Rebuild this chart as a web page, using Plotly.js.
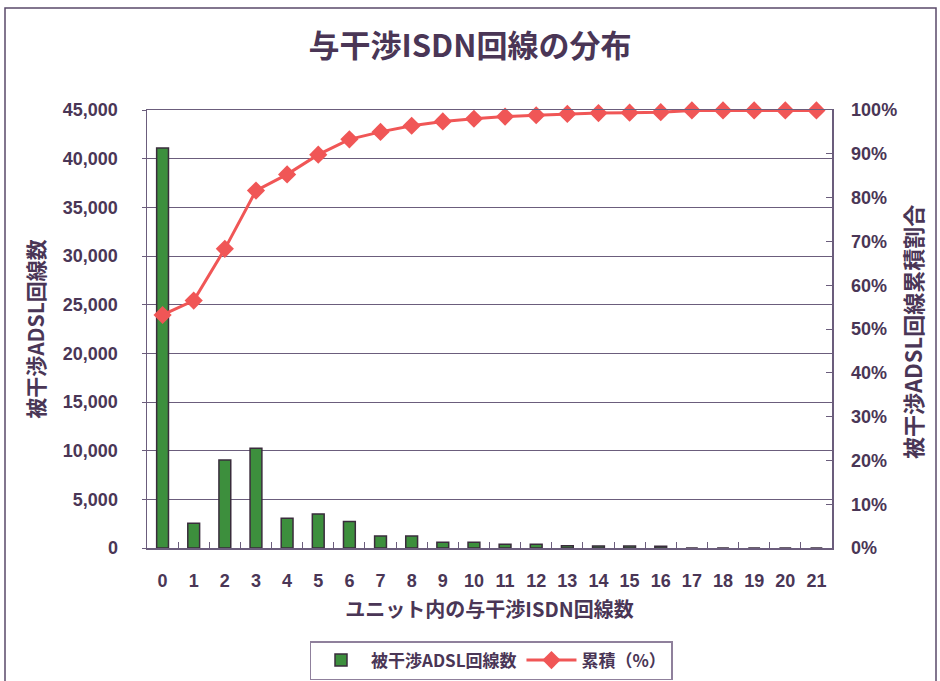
<!DOCTYPE html>
<html><head><meta charset="utf-8">
<script src="https://cdn.plot.ly/plotly-3.0.1.min.js"></script>
<style>html,body{margin:0;padding:0;background:#fff;}#chart{width:940px;height:681px;}</style>
</head><body><div id="chart"></div>
<script>
const categories = ['0','1','2','3','4','5','6','7','8','9','10','11','12','13','14','15','16','17','18','19','20','21'];
const adslCounts = [41100, 2550, 9050, 10250, 3050, 3500, 2720, 1230, 1230, 590, 580, 390, 380, 220, 210, 200, 190, 0, 0, 0, 0, 0];
const cumulativePct = [53.2, 56.5, 68.3, 81.6, 85.3, 89.8, 93.3, 95.0, 96.4, 97.4, 98.0, 98.5, 98.8, 99.1, 99.3, 99.4, 99.5, 99.9, 99.9, 99.9, 99.9, 99.9];
const leftTicks = [0, 5000, 10000, 15000, 20000, 25000, 30000, 35000, 40000, 45000];

const txt = '#4a3656';
const grid = '#6b5d7c';
const fam = '"Liberation Sans", Arial, "Noto Sans CJK JP", sans-serif';
const cjk = '"Noto Sans CJK JP", "Liberation Sans", sans-serif';

const L = 147, R = 832, T = 110, B = 548, W = 940, H = 681;
const pw = R - L, ph = B - T;

const data = [
  {type:'bar', x:categories, y:adslCounts, name:'被干渉ADSL回線数',
   marker:{color:'#3d8f3d', line:{color:'#3a2c3c', width:1.5}}, yaxis:'y'},
  {type:'scatter', mode:'lines+markers', x:categories, y:cumulativePct, name:'累積（%）',
   line:{color:'#f05656', width:3}, marker:{symbol:'diamond', size:14, color:'#f05656'}, yaxis:'y2', cliponaxis:false}
];

const layout = {
  width:W, height:H,
  margin:{l:L, r:W-R, t:T, b:H-B, pad:0},
  paper_bgcolor:'#fff', plot_bgcolor:'#fff',
  font:{family:fam, color:txt, size:17, weight:'bold'},
  title:{text:'<b>与干渉ISDN回線の分布</b>', font:{family:cjk, size:31, color:txt}, x:0.5, xanchor:'center', y:1-46/H, yanchor:'middle', automargin:false},
  bargap:0.62,
  showlegend:true,
  legend:{orientation:'h', xref:'container', yref:'container', x:491/W, xanchor:'center', y:1-641/H, yanchor:'top',
          bordercolor:'#8f809c', borderwidth:1.5, font:{family:cjk, size:17, color:txt, weight:'bold'}, itemwidth:50},
  xaxis:{type:'category', range:[-0.5, 21.5], autorange:false, automargin:false, showgrid:false, showline:true, linecolor:grid, linewidth:1.5, mirror:true,
         ticks:'inside', tickson:'boundaries', ticklen:6, tickcolor:grid,
         tickfont:{family:fam, size:18, color:txt, weight:'bold'}, ticklabelstandoff:16,
         title:{text:'<b>ユニット内の与干渉ISDN回線数</b>', font:{family:cjk, size:20, color:txt}, standoff:13},
         fixedrange:true},
  yaxis:{range:[0,45000], tickvals:leftTicks, tickformat:',d', automargin:false, showgrid:true, gridcolor:grid, gridwidth:1,
         showline:true, linecolor:grid, linewidth:1.5, ticks:'outside', ticklen:4, tickcolor:grid,
         tickfont:{family:fam, size:18, color:txt, weight:'bold'}, ticklabelstandoff:20, zeroline:false,
         title:{text:'<b>被干渉ADSL回線数</b>', font:{family:cjk, size:21, color:txt}, standoff:12},
         fixedrange:true},
  yaxis2:{range:[0,100], dtick:10, ticksuffix:'%', overlaying:'y', side:'right', automargin:false, showgrid:false,
          showline:true, linecolor:grid, linewidth:1.5, ticks:'inside', ticklen:6, tickcolor:grid,
          tickfont:{family:fam, size:18, color:txt, weight:'bold'}, ticklabelstandoff:14, zeroline:false, fixedrange:true},
  annotations:[
    {text:'<b>被干渉ADSL回線累積割合</b>', textangle:-90, xref:'paper', yref:'paper',
     x:(912-L)/pw, y:(B-332)/ph, xanchor:'center', yanchor:'middle', showarrow:false,
     font:{family:cjk, size:22, color:txt}}
  ],
  shapes:[
    {type:'rect', xref:'paper', yref:'paper', x0:(5-L)/pw, x1:(936-L)/pw, y0:(B-695)/ph, y1:(B-8)/ph,
     line:{color:'#5a4a6a', width:1.5}, fillcolor:'rgba(0,0,0,0)', layer:'below'}
  ]
};

Plotly.newPlot('chart', data, layout, {displayModeBar:false, staticPlot:true});
</script></body></html>
